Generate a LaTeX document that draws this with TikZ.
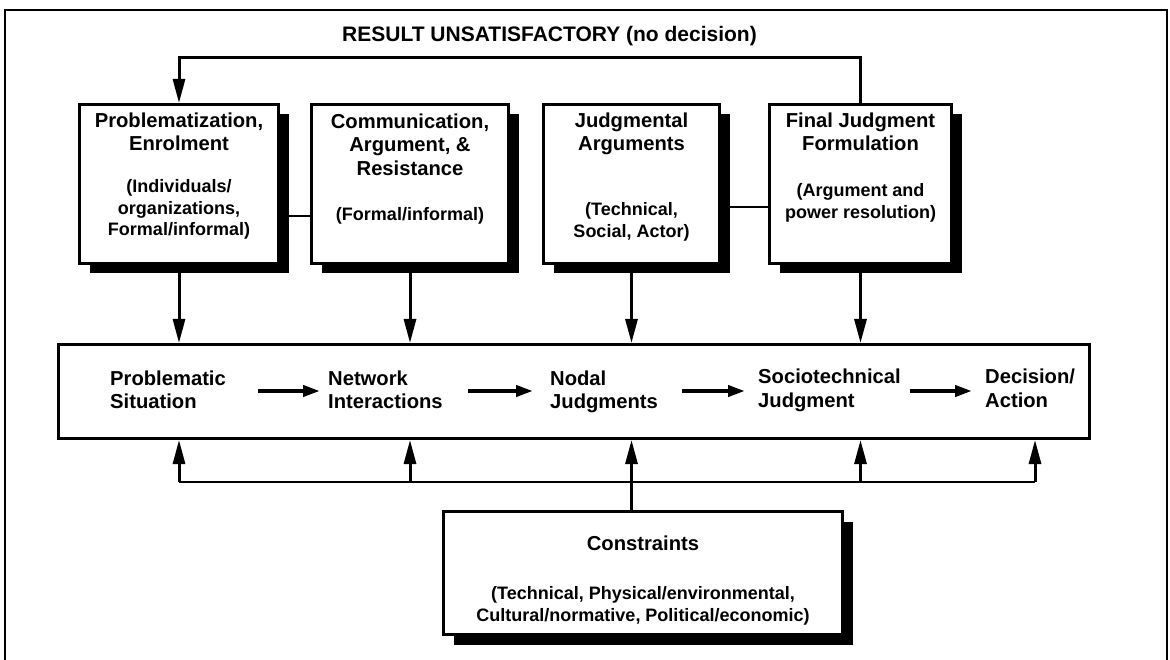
\documentclass[tikz,border=0pt]{standalone}
\usepackage{fontspec}
\setmainfont{Liberation Sans}
\usetikzlibrary{arrows.meta,shadows,calc}
\newcommand\headfont{\fontsize{20.2}{23.5}\selectfont\bfseries}
\newcommand\notefont{\fontsize{18}{21.5}\selectfont\bfseries}
\newcommand\loopfont{\fontsize{21}{24}\selectfont\bfseries}
\begin{document}
\begin{tikzpicture}[x=1pt,y=-1pt,
  stagebox/.style={draw=black, line width=3pt, fill=white, inner sep=0pt,
    anchor=north west,
    drop shadow={shadow xshift=10pt, shadow yshift=-10pt, opacity=1, fill=black}},
  head/.style={font=\headfont, align=center, inner sep=0pt, anchor=north},
  note/.style={font=\notefont, align=center, inner sep=0pt, anchor=north},
  steptext/.style={font=\headfont, align=left, inner sep=0pt, anchor=north west},
  link/.style={line width=2.8pt},
  vflow/.style={line width=3pt, -{Triangle[length=24pt,width=12pt]}},
  hflow/.style={line width=4pt, -{Triangle[length=17pt,width=11pt]}},
]
\useasboundingbox (0,0) rectangle (1170,660);
\clip (0,0) rectangle (1170,660);
\fill[white] (0,0) rectangle (1170,660);

% outer frame, open at the bottom
\draw[line width=2pt] (5,670) -- (5,10) -- (1167,10) -- (1167,670);

% feedback label
\node[font=\loopfont, anchor=base west, inner sep=0pt] (fail) at (342,42)
  {RESULT UNSATISFACTORY (no decision)};

% upper row of process boxes
\node[stagebox, minimum width=199pt, minimum height=159pt] (b1) at (78,103) {};
\node[stagebox, minimum width=197pt, minimum height=159pt] (b2) at (310,103) {};
\node[stagebox, minimum width=176pt, minimum height=159pt] (b3) at (542,103) {};
\node[stagebox, minimum width=182pt, minimum height=159pt] (b4) at (768,103) {};

\node[head] (t1) at ($(b1.north)+(0,9.5)$) {Problematization,\\Enrolment};
\node[note] (n1) at ($(b1.north)+(0,76.6)$) {(Individuals/\\organizations,\\Formal/informal)};
\node[head] (t2) at ($(b2.north)+(0,10.5)$) {Communication,\\Argument, \&\\Resistance};
\node[note] (n2) at ($(b2.north)+(0,104.6)$) {(Formal/informal)};
\node[head] (t3) at ($(b3.north)+(0,9.5)$) {Judgmental\\Arguments};
\node[note] (n3) at ($(b3.north)+(0,99.6)$) {(Technical,\\Social, Actor)};
\node[head] (t4) at ($(b4.north)+(0,9.5)$) {Final Judgment\\Formulation};
\node[note] (n4) at ($(b4.north)+(0,80.6)$) {(Argument and\\power resolution)};

% main process band
\node[draw=black, line width=3pt, inner sep=0pt, anchor=north west,
  minimum width=1031pt, minimum height=94pt] (main) at (57,343) {};
\node[steptext] (s1) at (110,370.5) {Problematic\\Situation};
\node[steptext] (s2) at (328,370.5) {Network\\Interactions};
\node[steptext] (s3) at (550,370.5) {Nodal\\Judgments};
\node[steptext] (s4) at (758,369) {Sociotechnical\\Judgment};
\node[steptext] (s5) at (985,369) {Decision/\\Action};

% constraints box
\node[stagebox, minimum width=399pt, minimum height=123pt] (cons) at (442,510) {};
\node[head] (ct) at ($(cons.north)+(0,25.5)$) {Constraints};
\node[note] (cn) at ($(cons.north)+(0,76.6)$)
  {(Technical, Physical/environmental,\\Cultural/normative, Political/economic)};

% helper rows
\coordinate (fb) at (0,58);
\coordinate (row12) at (0,216);
\coordinate (row34) at (0,207);
\coordinate (row) at (0,391);
\coordinate (bus) at (0,482);
\coordinate (busend) at (1035,482);

% feedback loop
\draw[vflow] (b4.north) -- (b4.north |- fb) -| (b1.north);

% links between neighbouring boxes
\draw[link] (b1.east |- row12) -- (b2.west |- row12);
\draw[link] (b3.east |- row34) -- (b4.west |- row34);

% boxes feed the main band
\foreach \b in {b1,b2,b3,b4}
  \draw[vflow] (\b.south) -- (\b.south |- main.north);

% steps inside the band
\draw[hflow, shorten <=32pt, shorten >=8pt] (s1.east |- row) -- (s2.west |- row);
\draw[hflow, shorten <=25pt, shorten >=17pt] (s2.east |- row) -- (s3.west |- row);
\draw[hflow, shorten <=24pt, shorten >=13pt] (s3.east |- row) -- (s4.west |- row);
\draw[hflow, shorten <=9pt, shorten >=13pt] (s4.east |- row) -- (s5.west |- row);

% constraints bus
\draw[link] (b1.south |- bus) -- (busend);
\foreach \b in {b1,b2,b4}
  \draw[vflow] (\b.south |- bus) -- (\b.south |- main.south);
\draw[vflow] (busend) -- (busend |- main.south);
\draw[vflow] (b3.south |- cons.north) -- (b3.south |- main.south);
\end{tikzpicture}
\end{document}
